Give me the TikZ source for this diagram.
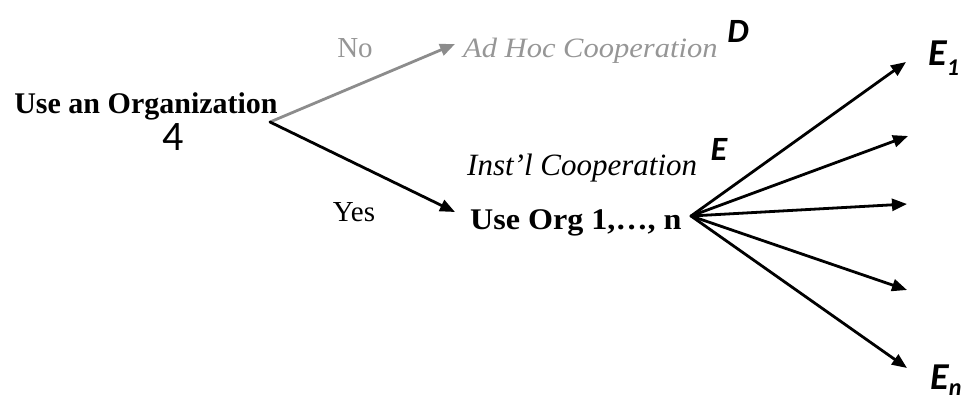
\documentclass[tikz,border=0pt]{standalone}
\usepackage{fontspec}
\setmainfont{Liberation Serif}
\newfontfamily\calib{Carlito}
\usetikzlibrary{arrows.meta}
\definecolor{greyline}{RGB}{140,140,140}
\definecolor{greytext}{RGB}{150,150,150}
\begin{document}
\begin{tikzpicture}[x=1pt,y=-1pt,
  lbl/.style={inner sep=0pt, anchor=base},
  big/.style={font=\fontsize{30}{30}\selectfont\bfseries},
  plain/.style={font=\fontsize{29}{29}\selectfont},
  ital/.style={font=\fontsize{31}{31}\selectfont\itshape},
  letter/.style={font=\calib\fontsize{34}{34}\selectfont\bfseries\itshape},
  bigletter/.style={font=\calib\fontsize{38}{38}\selectfont\bfseries\itshape},
  arr/.style={line width=2.8pt, line cap=round, -{Triangle[length=15pt,width=12pt]}},
  garr/.style={arr, draw=greyline}]
\useasboundingbox (0,0) rectangle (968,400);
% texts
\node[lbl, big] (org) at (146,113) {Use an Organization};
\node[lbl, font=\calib\fontsize{42}{42}\selectfont] (four) at (173,150) {4};
\node[lbl, plain, text=greytext] (no) at (355,57) {No};
\node[lbl, plain] (yes) at (354,221) {Yes};
\node[lbl, text=greytext, anchor=base west, font=\fontsize{28}{28}\selectfont\itshape] (adhoc) at (463,57) {\scalebox{1.09}[1]{Ad Hoc Cooperation}};
\node[lbl, letter] (D) at (738,42) {D};
\node[lbl, ital, anchor=base west] (inst) at (467,175) {Inst'l Cooperation};
\node[lbl, letter] (E) at (719,160) {E};
\node[lbl, big, anchor=base west] (use) at (470,229) {\scalebox{1.07}[1]{Use Org 1,\dots, n}};
\node[lbl, bigletter, anchor=base west] (E1) at (928,65) {E\raisebox{-10pt}{\fontsize{24}{24}\selectfont 1}};
\node[lbl, bigletter, anchor=base west] (En) at (930,389) {E\raisebox{-6pt}{\fontsize{24}{24}\selectfont n}};
% branch points and arrow ends
\coordinate (O) at (270,122);
\coordinate (adhocend) at (455,44);
\coordinate (useend) at (455,212);
\coordinate (F) at (691,216);
\coordinate (t1) at (906,62);
\coordinate (t2) at (908,136);
\coordinate (t3) at (907,204);
\coordinate (t4) at (907,290);
\coordinate (t5) at (907,368);
% arrows
\draw[garr] (O) -- (adhocend);
\draw[arr] (O) -- (useend);
\foreach \t in {t1,t2,t3,t4,t5} \draw[arr] (F) -- (\t);
\end{tikzpicture}
\end{document}
